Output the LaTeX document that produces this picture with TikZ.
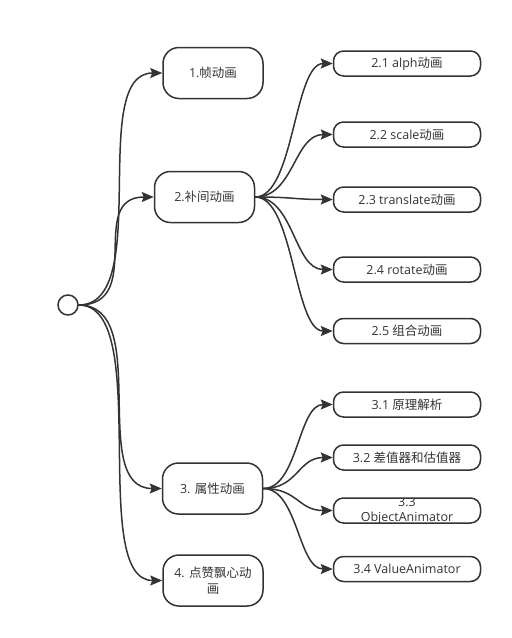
\documentclass[tikz,border=0pt]{standalone}
\usepackage{fontspec}
\setmainfont{Open Sans}
\newfontfamily\cjk{Noto Sans CJK SC}
\usetikzlibrary{arrows.meta, calc}
\definecolor{ink}{HTML}{333333}
\tikzset{
  topic/.style={draw=ink, line width=1.5pt, rounded corners=16pt, minimum width=100pt,
    minimum height=51pt, inner sep=0pt, text=ink, align=center,
    font=\fontsize{12.5pt}{16pt}\selectfont},
  subtopic/.style={topic, rounded corners=10pt, minimum width=147pt, minimum height=25pt},
  link/.style={draw=ink, line width=1.5pt, ->},
  branch/.style={to path={.. controls ($(\tikztostart)!#1!(\tikztotarget |- \tikztostart)$)
    and ($(\tikztotarget)!#1!(\tikztostart |- \tikztotarget)$) .. (\tikztotarget) \tikztonodes}},
  branch/.default=0.9,
}
\begin{document}
\begin{tikzpicture}[x=1pt, y=-1pt, >={Stealth[length=12pt, width=10pt, inset=2pt]}]
  \useasboundingbox (0,0) rectangle (512,638);
  \node[draw=ink, line width=1.5pt, circle, minimum size=20pt, inner sep=0pt] (root) at (68,305) {};

  % first level
  \node[topic] (t1) at (213,73) {1.{\cjk 帧动画}};
  \node[topic] (t2) at (204.5,197) {2.{\cjk 补间动画}};
  \node[topic] (t3) at (212.5,488.5) {3. {\cjk 属性动画}};
  \node[topic] (t4) at (213,580.5) {4. {\cjk 点赞飘心动}\\{\cjk 画}};

  % second level
  \node[subtopic] (s21) at (407,63.5) {2.1 alph{\cjk 动画}};
  \node[subtopic] (s22) at (407,134.5) {2.2 scale{\cjk 动画}};
  \node[subtopic] (s23) at (407,199.5) {2.3 translate{\cjk 动画}};
  \node[subtopic] (s24) at (407,269.5) {2.4 rotate{\cjk 动画}};
  \node[subtopic] (s25) at (407,331) {2.5 {\cjk 组合动画}};

  \node[subtopic] (s31) at (407,404.5) {3.1 {\cjk 原理解析}};
  \node[subtopic] (s32) at (407,457.5) {3.2 {\cjk 差值器和估值器}};
  \begin{scope}
    \clip[rounded corners=10pt] (333.5,498) rectangle (480.5,523);
    \node[text=ink, align=center, font=\fontsize{12.5pt}{15pt}\selectfont] at (407,510.5) {3.3\\ObjectAnimator};
  \end{scope}
  \node[subtopic] (s33) at (407,510.5) {};
  \node[subtopic] (s34) at (407,569) {3.4 ValueAnimator};

  % connectors
  \foreach \t in {1,...,4}
    \draw[link] (root.east) to[branch] (t\t.west);
  \foreach \s in {1,...,5}
    \draw[link] (t2.east) to[branch=0.5] (s2\s.west);
  \foreach \s in {1,...,4}
    \draw[link] (t3.east) to[branch=0.5] (s3\s.west);
\end{tikzpicture}
\end{document}
